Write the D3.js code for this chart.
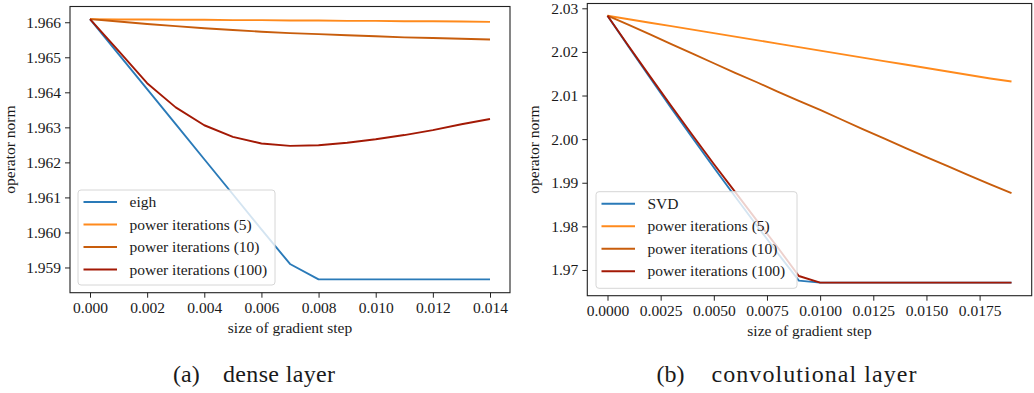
<!DOCTYPE html>
<html>
<head>
<meta charset="utf-8">
<script src="https://cdn.jsdelivr.net/npm/d3@7"></script>
<style>
  body { margin: 0; background: #fff; }
  svg text { font-family: "Liberation Serif", serif; fill: #1a1a1a; }
</style>
</head>
<body>
<svg id="fig" width="1034" height="393"></svg>
<script>
// dense layer (a)
const steps_dense = [0, 0.001, 0.002, 0.003, 0.004, 0.005, 0.006, 0.007, 0.008, 0.009, 0.010, 0.011, 0.012, 0.013, 0.014];
const eigh_dense = [1.96609, 1.96509, 1.96409, 1.96309, 1.96209, 1.96109, 1.96009, 1.95910, 1.95866, 1.95866, 1.95866, 1.95866, 1.95866, 1.95866, 1.95866];
const pow5_dense = [1.96609, 1.96608, 1.96608, 1.96607, 1.96607, 1.96606, 1.96606, 1.96605, 1.96605, 1.96604, 1.96604, 1.96603, 1.96603, 1.96602, 1.96601];
const pow10_dense = [1.96609, 1.96602, 1.96595, 1.96589, 1.96583, 1.96578, 1.96573, 1.96569, 1.96566, 1.96563, 1.96560, 1.96557, 1.96555, 1.96553, 1.96551];
const pow100_dense = [1.96609, 1.96518, 1.96426, 1.96357, 1.96306, 1.96273, 1.96254, 1.96247, 1.96249, 1.96256, 1.96266, 1.96278, 1.96292, 1.96309, 1.96324];
const x_ticks_dense = [0, 0.002, 0.004, 0.006, 0.008, 0.010, 0.012, 0.014];
const y_ticks_dense = [1.959, 1.960, 1.961, 1.962, 1.963, 1.964, 1.965, 1.966];

// convolutional layer (b)
const steps_conv = [0, 0.001, 0.002, 0.003, 0.004, 0.005, 0.006, 0.007, 0.008, 0.009, 0.010, 0.011, 0.012, 0.013, 0.014, 0.015, 0.016, 0.017, 0.018, 0.019];
const svd_conv = [2.0283, 2.02112, 2.01406, 2.00711, 2.00025, 1.99351, 1.98686, 1.98032, 1.97388, 1.96755, 1.96710, 1.96710, 1.96710, 1.96710, 1.96710, 1.96710, 1.96710, 1.96710, 1.96710, 1.96710];
const pow5_conv = [2.0283, 2.0275, 2.0267, 2.0259, 2.0251, 2.0243, 2.0235, 2.0227, 2.0219, 2.0211, 2.0203, 2.0195, 2.0187, 2.0179, 2.0171, 2.0163, 2.0155, 2.0147, 2.0139, 2.0132];
const pow10_conv = [2.0283, 2.0262, 2.0240, 2.0218, 2.0196, 2.0174, 2.0152, 2.0131, 2.0109, 2.0088, 2.0067, 2.0045, 2.0023, 2.0002, 1.9980, 1.9959, 1.9938, 1.9917, 1.9896, 1.9876];
const pow100_conv = [2.0283, 2.0213, 2.0144, 2.0076, 2.0009, 1.9943, 1.9879, 1.9815, 1.9752, 1.96862, 1.96710, 1.96710, 1.96710, 1.96710, 1.96710, 1.96710, 1.96710, 1.96710, 1.96710, 1.96710];
const x_ticks_conv = [0, 0.0025, 0.0050, 0.0075, 0.0100, 0.0125, 0.0150, 0.0175];
const y_ticks_conv = [1.97, 1.98, 1.99, 2.00, 2.01, 2.02, 2.03];

const labels_dense = ["eigh", "power iterations (5)", "power iterations (10)", "power iterations (100)"];
const labels_conv = ["SVD", "power iterations (5)", "power iterations (10)", "power iterations (100)"];
const colors = ["#2a7ab8", "#ff8a1c", "#c85d0c", "#a31905"];

const serif = "'Liberation Serif', serif";
const svg = d3.select("#fig");

function create_panel(box, x_domain, y_domain, x_ticks, y_ticks, x_fmt, y_fmt, steps, series, names, legend_box, y_label_x){
    const width = box.right - box.left;
    const height = box.bottom - box.top;

    const chart = svg.append("g")
        .attr("transform", `translate(${box.left}, ${box.top})`);

    const x_scale = d3.scaleLinear().domain(x_domain).range([0, width]);
    const y_scale = d3.scaleLinear().domain(y_domain).range([height, 0]);

    const x_axis = chart.append("g")
        .attr("transform", `translate(0, ${height})`)
        .call(d3.axisBottom(x_scale).tickValues(x_ticks).tickFormat(d3.format(x_fmt)).tickSize(5).tickPadding(4));

    const y_axis = chart.append("g")
        .call(d3.axisLeft(y_scale).tickValues(y_ticks).tickFormat(d3.format(y_fmt)).tickSize(5).tickPadding(4));

    [x_axis, y_axis].forEach((ax)=>{
        ax.attr("font-family", null).attr("font-size", null);
        ax.select(".domain").remove();
        ax.selectAll(".tick line").style("stroke", "#222").style("stroke-width", 1);
        ax.selectAll(".tick text")
          .style("font-family", serif)
          .style("font-size", "15.5px")
          .style("fill", "#1a1a1a");
    });

    const line = d3.line()
        .x((d, i) => x_scale(steps[i]))
        .y((d) => y_scale(d));

    chart.append("g").selectAll("path")
        .data(series)
        .enter()
        .append("path")
        .attr("d", (d)=>line(d))
        .style("fill", "none")
        .style("stroke", (d, i)=>colors[i])
        .style("stroke-width", 1.9)
        .style("stroke-linejoin", "round");

    chart.append("rect")
        .attr("x", 0).attr("y", 0)
        .attr("width", width).attr("height", height)
        .style("fill", "none")
        .style("stroke", "#222")
        .style("stroke-width", 1.1);

    chart.append("text")
        .attr("text-anchor", "middle")
        .attr("transform", `translate(${width/2}, ${height + 40})`)
        .style("font-family", serif)
        .style("font-size", "15.5px")
        .text("size of gradient step");

    chart.append("text")
        .attr("text-anchor", "middle")
        .attr("transform", `translate(${y_label_x - box.left}, ${height/2})rotate(-90)`)
        .style("font-family", serif)
        .style("font-size", "15.5px")
        .text("operator norm");

    // legend
    const legend = svg.append("g")
        .attr("transform", `translate(${legend_box.x}, ${legend_box.y})`);

    legend.append("rect")
        .attr("width", legend_box.w)
        .attr("height", legend_box.h)
        .attr("rx", 3)
        .style("fill", "#fff")
        .style("fill-opacity", 0.8)
        .style("stroke", "#d6d6d6")
        .style("stroke-width", 1);

    const items = legend.selectAll(".item")
        .data(names)
        .enter()
        .append("g")
        .attr("class", "item")
        .attr("transform", (d, i)=>`translate(0, ${12 + i*22.5})`);

    items.append("line")
        .attr("x1", 5.5).attr("x2", 39)
        .attr("y1", 0).attr("y2", 0)
        .style("stroke", (d, i)=>colors[i])
        .style("stroke-width", 1.9);

    items.append("text")
        .attr("x", 51.5)
        .attr("y", 5)
        .style("font-family", serif)
        .style("font-size", "15.5px")
        .text((d)=>d);
}

create_panel({left: 70, right: 510, top: 6.5, bottom: 292.7},
    [-0.0007, 0.0147], [1.95828, 1.96645],
    x_ticks_dense, y_ticks_dense, ".3f", ".3f",
    steps_dense, [eigh_dense, pow5_dense, pow10_dense, pow100_dense],
    labels_dense, {x: 78, y: 190, w: 197, h: 95}, 15);

create_panel({left: 587.3, right: 1031.7, top: 3.5, bottom: 295.7},
    [-0.00095, 0.01995], [1.9641, 2.0311],
    x_ticks_conv, y_ticks_conv, ".4f", ".2f",
    steps_conv, [svd_conv, pow5_conv, pow10_conv, pow100_conv],
    labels_conv, {x: 596, y: 191.7, w: 201, h: 96.6}, 539);

// captions
const captions = [
    {tag: "(a)", x: 173, text: "dense layer", tx: 223, len: 112},
    {tag: "(b)", x: 656.5, text: "convolutional layer", tx: 711.5, len: 205}
];

captions.forEach((c)=>{
    svg.append("text")
        .attr("x", c.x).attr("y", 382)
        .style("font-family", serif)
        .style("font-size", "24px")
        .text(c.tag);
    svg.append("text")
        .attr("x", c.tx).attr("y", 382)
        .attr("textLength", c.len)
        .attr("lengthAdjust", "spacing")
        .style("font-family", serif)
        .style("font-size", "24px")
        .text(c.text);
});
</script>
</body>
</html>
